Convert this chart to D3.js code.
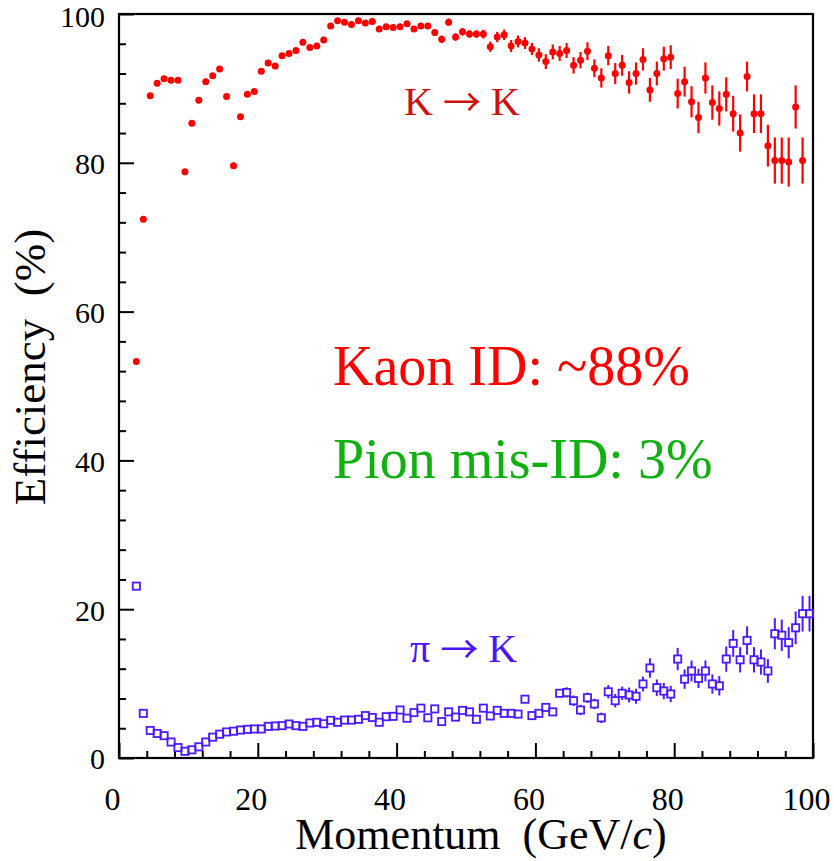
<!DOCTYPE html>
<html>
<head>
<meta charset="utf-8">
<script src="https://cdn.jsdelivr.net/npm/d3@7"></script>
<style>
  html, body { margin: 0; padding: 0; background: #fff; }
  svg { display: block; }
</style>
</head>
<body>
<svg id="chart" width="834" height="861"></svg>
<script>
// ---------------- data ----------------
const kaonMomentum = [2.5,3.5,4.5,5.5,6.5,7.5,8.5,9.5,10.5,11.5,12.5,13.5,14.5,15.5,16.5,17.5,18.5,19.5,20.5,21.5,22.5,23.5,24.5,25.5,26.5,27.5,28.5,29.5,30.5,31.5,32.5,33.5,34.5,35.5,36.5,37.5,38.5,39.5,40.5,41.5,42.5,43.5,44.5,45.5,46.5,47.5,48.5,49.5,50.5,51.5,52.5,53.5,54.5,55.5,56.5,57.5,58.5,59.5,60.5,61.5,62.5,63.5,64.5,65.5,66.5,67.5,68.5,69.5,70.5,71.5,72.5,73.5,74.5,75.5,76.5,77.5,78.5,79.5,80.5,81.5,82.5,83.5,84.5,85.5,86.5,87.5,88.5,89.5,90.5,91.5,92.5,93.5,94.5,95.5,96.5,97.5,98.5];
const kaonEff = [53.3,72.4,89.0,90.7,91.3,91.1,91.1,78.8,85.3,88.4,90.9,91.7,92.6,88.9,79.6,86.2,89.2,89.6,92.3,93.4,93.0,94.4,94.7,95.1,96.2,95.5,95.7,96.5,98.4,99.1,98.9,98.6,99.1,98.8,99.0,98.0,98.3,98.2,98.3,98.7,98.0,98.4,98.4,97.5,96.6,98.9,96.9,97.6,97.3,97.3,97.3,95.6,96.9,97.2,95.7,96.3,96.1,95.3,94.5,93.6,94.9,94.7,95.1,93.1,93.8,95.0,92.7,91.4,94.4,92.0,93.1,90.8,92.0,93.9,89.8,92.0,94.0,94.2,89.3,90.9,88.2,86.1,91.4,88.1,87.3,89.2,86.6,84.0,91.6,86.6,86.6,82.3,80.3,80.3,80.1,87.5,80.3];
const kaonErr = [0.3,0.3,0.3,0.3,0.3,0.3,0.3,0.3,0.3,0.3,0.3,0.3,0.3,0.3,0.3,0.3,0.3,0.3,0.3,0.3,0.3,0.3,0.3,0.3,0.3,0.3,0.3,0.3,0.3,0.3,0.3,0.3,0.3,0.3,0.3,0.3,0.3,0.3,0.3,0.3,0.3,0.3,0.3,0.4,0.5,0.5,0.5,0.5,0.5,0.5,0.6,0.7,0.7,0.7,0.8,0.8,0.8,0.8,0.9,1.0,1.0,1.0,1.0,1.1,1.1,1.2,1.2,1.3,1.3,1.4,1.4,1.5,1.5,1.5,1.6,1.6,1.6,1.6,2.0,2.0,2.1,2.1,2.1,2.3,2.3,2.3,2.4,2.5,2.0,2.6,2.6,2.8,3.1,3.1,3.3,2.9,3.1];

const pionMomentum = [2.5,3.5,4.5,5.5,6.5,7.5,8.5,9.5,10.5,11.5,12.5,13.5,14.5,15.5,16.5,17.5,18.5,19.5,20.5,21.5,22.5,23.5,24.5,25.5,26.5,27.5,28.5,29.5,30.5,31.5,32.5,33.5,34.5,35.5,36.5,37.5,38.5,39.5,40.5,41.5,42.5,43.5,44.5,45.5,46.5,47.5,48.5,49.5,50.5,51.5,52.5,53.5,54.5,55.5,56.5,57.5,58.5,59.5,60.5,61.5,62.5,63.5,64.5,65.5,66.5,67.5,68.5,69.5,70.5,71.5,72.5,73.5,74.5,75.5,76.5,77.5,78.5,79.5,80.5,81.5,82.5,83.5,84.5,85.5,86.5,87.5,88.5,89.5,90.5,91.5,92.5,93.5,94.5,95.5,96.5,97.5,98.5,99.5];
const pionEff = [23.1,6.0,3.7,3.3,3.0,2.15,1.4,0.9,1.1,1.5,2.15,2.8,3.2,3.5,3.6,3.76,3.85,3.9,3.9,4.25,4.3,4.35,4.57,4.35,4.25,4.7,4.8,4.6,5.06,4.8,5.1,5.1,5.2,5.7,5.45,4.8,5.55,5.6,6.45,5.35,6.1,6.7,5.4,6.6,4.9,6.2,5.5,6.4,6.2,5.2,6.7,5.65,6.4,6.0,6.0,5.9,7.9,5.7,6.0,6.8,6.2,8.7,8.8,7.7,6.45,8.1,7.26,5.4,8.9,7.7,8.7,8.47,8.3,9.95,12.1,9.45,9.0,8.6,13.3,10.6,11.7,10.7,11.7,9.95,9.7,13.3,15.4,13.2,15.8,13.2,12.9,11.7,16.7,16.5,15.5,17.5,19.4,19.4];
const pionErr = [0.3,0.3,0.3,0.3,0.3,0.3,0.3,0.3,0.3,0.3,0.3,0.3,0.3,0.3,0.3,0.3,0.3,0.3,0.3,0.3,0.3,0.3,0.3,0.3,0.3,0.3,0.3,0.3,0.3,0.3,0.3,0.3,0.3,0.3,0.3,0.3,0.3,0.3,0.4,0.4,0.4,0.4,0.4,0.4,0.4,0.4,0.4,0.4,0.4,0.4,0.4,0.4,0.4,0.4,0.4,0.4,0.5,0.5,0.5,0.5,0.5,0.5,0.7,0.7,0.7,0.7,0.7,0.7,0.9,0.9,0.9,1.0,1.0,1.0,1.3,1.1,1.1,1.1,1.5,1.3,1.4,1.3,1.4,1.3,1.3,1.7,1.8,1.7,1.9,1.7,1.7,1.6,2.1,2.1,2.1,2.2,2.4,2.4];

const xMajorTicks = [0,20,40,60,80,100];
const yMajorTicks = [0,20,40,60,80,100];
const xTitle = "Momentum  (GeV/";
const yTitle = "Efficiency  (%)";
const arrow = "\u2192";
const kaonLabel = ["K", "K"];
const pionLabel = ["\u03C0", "K"];
const kaonSummary = "Kaon ID: ~88%";
const pionSummary = "Pion mis-ID: 3%";

// ---------------- layout ----------------
const serif = "'Liberation Serif', 'Times New Roman', Times, serif";
const plotL = 119, plotR = 813, plotT = 14, plotB = 758;
const x = d3.scaleLinear().domain([0, 100]).range([plotL, plotR]);
const y = d3.scaleLinear().domain([0, 100]).range([plotB, plotT]);

const svg = d3.select("#chart");
svg.append("rect").attr("width", 834).attr("height", 861).attr("fill", "#fff");

// minor ticks
const minorX = d3.range(0, 101, 4).filter(v => v % 20 !== 0);
const minorY = d3.range(0, 101, 4).filter(v => v % 20 !== 0);

const gxMinor = svg.append("g").attr("transform", `translate(0,${plotB})`)
  .call(d3.axisBottom(x).tickValues(minorX).tickSize(-7).tickFormat(""));
const gyMinor = svg.append("g").attr("transform", `translate(${plotL},0)`)
  .call(d3.axisLeft(y).tickValues(minorY).tickSize(-7).tickFormat(""));

const gx = svg.append("g").attr("transform", `translate(0,${plotB})`)
  .call(d3.axisBottom(x).tickValues(xMajorTicks).tickSize(-15).tickPadding(29).tickFormat(d3.format("d")));
const gy = svg.append("g").attr("transform", `translate(${plotL},0)`)
  .call(d3.axisLeft(y).tickValues(yMajorTicks).tickSize(-15).tickPadding(14).tickFormat(d3.format("d")));

[gxMinor, gyMinor, gx, gy].forEach(g => {
  g.select(".domain").remove();
  g.selectAll(".tick line").attr("stroke", "#000").attr("stroke-width", 2);
});
gx.attr("font-family", serif).attr("font-size", 32);
gy.attr("font-family", serif).attr("font-size", 30);
gx.selectAll(".tick text").attr("fill", "#000").attr("dx", -7);
gy.selectAll(".tick text").attr("fill", "#000").attr("dy", d => d === 100 ? "0.43em" : "0.36em");

// frame
svg.append("rect")
  .attr("x", plotL).attr("y", plotT)
  .attr("width", plotR - plotL).attr("height", plotB - plotT)
  .attr("fill", "none").attr("stroke", "#000").attr("stroke-width", 2.2);

// ---------------- kaon points ----------------
const kaon = kaonMomentum.map((p, i) => ({p, v: kaonEff[i], e: kaonErr[i]}));
const pion = pionMomentum.map((p, i) => ({p, v: pionEff[i], e: pionErr[i]}));

const red = "#ff0000";
const blue = "#4d1aff";

svg.append("g").selectAll("line").data(kaon).join("line")
  .attr("x1", d => x(d.p)).attr("x2", d => x(d.p))
  .attr("y1", d => y(d.v + d.e)).attr("y2", d => y(d.v - d.e))
  .attr("stroke", red).attr("stroke-width", 2.2);
svg.append("g").selectAll("circle").data(kaon).join("circle")
  .attr("cx", d => x(d.p)).attr("cy", d => y(d.v)).attr("r", 3.5)
  .attr("fill", red);

// ---------------- pion points ----------------
const half = 3.6;
const pg = svg.append("g");
pg.selectAll("line.up").data(pion.filter(d => y(d.v + d.e) < y(d.v) - half)).join("line")
  .attr("class", "up")
  .attr("x1", d => x(d.p)).attr("x2", d => x(d.p))
  .attr("y1", d => y(d.v + d.e)).attr("y2", d => y(d.v) - half)
  .attr("stroke", blue).attr("stroke-width", 2);
pg.selectAll("line.dn").data(pion.filter(d => y(d.v - d.e) > y(d.v) + half)).join("line")
  .attr("class", "dn")
  .attr("x1", d => x(d.p)).attr("x2", d => x(d.p))
  .attr("y1", d => y(d.v) + half).attr("y2", d => y(d.v - d.e))
  .attr("stroke", blue).attr("stroke-width", 2);
pg.selectAll("rect").data(pion).join("rect")
  .attr("x", d => x(d.p) - half).attr("y", d => y(d.v) - half)
  .attr("width", 2 * half).attr("height", 2 * half)
  .attr("fill", "none").attr("stroke", blue).attr("stroke-width", 1.8);

// ---------------- text ----------------
function arrowLabel(xPos, yPos, parts, color) {
  const t = svg.append("text").attr("x", xPos).attr("y", yPos)
    .attr("font-family", serif).attr("font-size", 40).attr("fill", color)
    .style("white-space", "pre");
  t.append("tspan").text(parts[0] + " ");
  t.append("tspan").attr("font-family", "'Noto Sans CJK JP', 'DejaVu Sans', sans-serif").attr("font-size", 38)
    .attr("dy", 1).text(arrow);
  t.append("tspan").attr("dy", -1).text(" " + parts[1]);
}
arrowLabel(404, 115, kaonLabel, "#cc1111");
arrowLabel(410, 662, pionLabel, "#4a14ff");

svg.append("text").attr("x", 333).attr("y", 385)
  .attr("font-family", serif).attr("font-size", 56).attr("fill", "#ff0000")
  .text(kaonSummary);
svg.append("text").attr("x", 333).attr("y", 478)
  .attr("font-family", serif).attr("font-size", 56).attr("fill", "#10b010")
  .text(pionSummary);

// axis titles
const xt = svg.append("text").attr("x", 481).attr("y", 849)
  .attr("text-anchor", "middle")
  .attr("font-family", serif).attr("font-size", 44).attr("fill", "#000")
  .style("white-space", "pre");
xt.append("tspan").text(xTitle);
xt.append("tspan").attr("font-style", "italic").text("c");
xt.append("tspan").text(")");

svg.append("text")
  .attr("transform", "translate(45,367) rotate(-90)")
  .attr("text-anchor", "middle")
  .attr("font-family", serif).attr("font-size", 45).attr("fill", "#000")
  .style("white-space", "pre")
  .text(yTitle);
</script>
</body>
</html>
